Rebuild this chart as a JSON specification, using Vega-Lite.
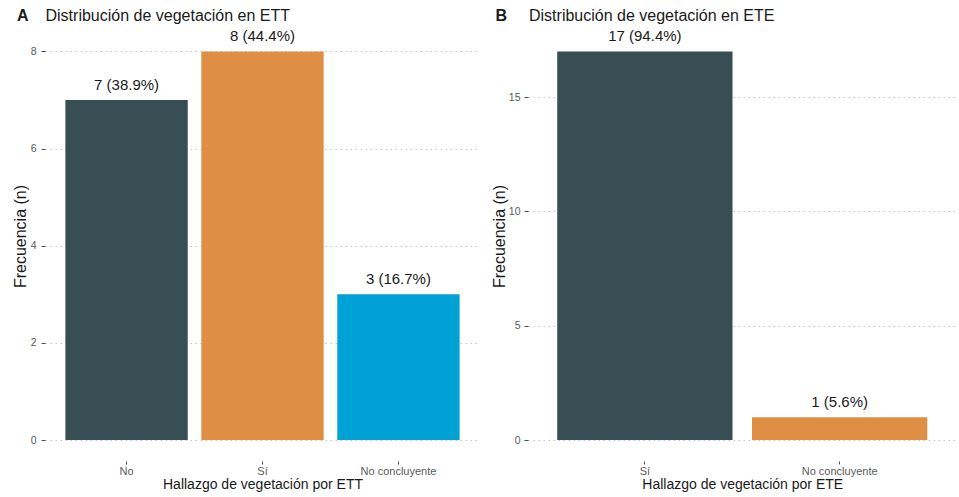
{
  "$schema": "https://vega.github.io/schema/vega-lite/v6.json",
  "background": "white",
  "padding": {"left": 12, "top": 7, "right": 1, "bottom": 2},
  "spacing": 11,
  "config": {
    "font": "Liberation Sans",
    "view": {"stroke": null},
    "title": {"font": "Liberation Sans", "color": "#1a1a1a", "anchor": "start"},
    "axis": {
      "domain": false,
      "labelFont": "Liberation Sans",
      "titleFont": "Liberation Sans",
      "titleFontWeight": "normal",
      "titleColor": "#1a1a1a",
      "labelColor": "#5a5a5a",
      "tickColor": "#4d4d4d"
    },
    "axisY": {
      "grid": true,
      "gridDash": [1.5, 3.5],
      "gridColor": "#c4c4c4",
      "gridWidth": 1,
      "tickSize": 4,
      "labelPadding": 5,
      "labelFontSize": 10.5,
      "titleFontSize": 16,
      "titlePadding": 2
    },
    "axisX": {
      "grid": false,
      "tickSize": 3,
      "labelPadding": 1,
      "labelFontSize": 11,
      "labelAngle": 0,
      "titleFontSize": 14,
      "titlePadding": 1,
      "offset": 21
    }
  },
  "datasets": {
    "ett": [
      {"cat": "No", "n": 7, "label": "7 (38.9%)"},
      {"cat": "Sí", "n": 8, "label": "8 (44.4%)"},
      {"cat": "No concluyente", "n": 3, "label": "3 (16.7%)"}
    ],
    "ete": [
      {"cat": "Sí", "n": 17, "label": "17 (94.4%)"},
      {"cat": "No concluyente", "n": 1, "label": "1 (5.6%)"}
    ]
  },
  "hconcat": [
    {
      "title": {"text": "A", "fontSize": 16, "fontWeight": "bold", "frame": "group", "dx": -28, "offset": -16},
      "vconcat": [
        {
          "width": 435,
          "height": 408,
          "data": {"name": "ett"},
          "title": {
            "text": "Distribución de vegetación en ETT",
            "frame": "group",
            "dx": 0.5,
            "offset": 5.5,
            "fontSize": 16,
            "fontWeight": "normal"
          },
          "encoding": {
            "x": {
              "field": "cat",
              "type": "nominal",
              "sort": ["No", "Sí", "No concluyente"],
              "scale": {"paddingInner": 0.1, "paddingOuter": 0.15},
              "axis": {"title": "Hallazgo de vegetación por ETT"}
            },
            "y": {
              "field": "n",
              "type": "quantitative",
              "scale": {"domain": [0, 8.4], "nice": false, "zero": true},
              "axis": {"values": [0, 2, 4, 6, 8], "title": "Frecuencia (n)"}
            }
          },
          "layer": [
            {
              "mark": {"type": "bar"},
              "encoding": {
                "color": {
                  "field": "cat",
                  "type": "nominal",
                  "scale": {"domain": ["No", "Sí", "No concluyente"], "range": ["#374E55", "#DF8F44", "#00A1D5"]},
                  "legend": null
                }
              }
            },
            {
              "mark": {"type": "text", "baseline": "alphabetic", "dy": -10, "fontSize": 15, "color": "#1a1a1a"},
              "encoding": {"text": {"field": "label"}}
            }
          ]
        }
      ]
    },
    {
      "title": {"text": "B", "fontSize": 16, "fontWeight": "bold", "frame": "group", "dx": -32.4, "offset": -16},
      "vconcat": [
        {
          "width": 428.5,
          "height": 408,
          "data": {"name": "ete"},
          "title": {
            "text": "Distribución de vegetación en ETE",
            "frame": "group",
            "dx": 1,
            "offset": 5.5,
            "fontSize": 16,
            "fontWeight": "normal"
          },
          "encoding": {
            "x": {
              "field": "cat",
              "type": "nominal",
              "sort": ["Sí", "No concluyente"],
              "scale": {"paddingInner": 0.1, "paddingOuter": 0.15},
              "axis": {"title": "Hallazgo de vegetación por ETE"}
            },
            "y": {
              "field": "n",
              "type": "quantitative",
              "scale": {"domain": [0, 17.85], "nice": false, "zero": true},
              "axis": {"values": [0, 5, 10, 15], "title": "Frecuencia (n)", "labelPadding": 4, "titlePadding": 1}
            }
          },
          "layer": [
            {
              "mark": {"type": "bar"},
              "encoding": {
                "color": {
                  "field": "cat",
                  "type": "nominal",
                  "scale": {"domain": ["Sí", "No concluyente"], "range": ["#374E55", "#DF8F44"]},
                  "legend": null
                }
              }
            },
            {
              "mark": {"type": "text", "baseline": "alphabetic", "dy": -10, "fontSize": 15, "color": "#1a1a1a"},
              "encoding": {"text": {"field": "label"}}
            }
          ]
        }
      ]
    }
  ],
  "resolve": {"scale": {"color": "independent", "x": "independent", "y": "independent"}}
}
